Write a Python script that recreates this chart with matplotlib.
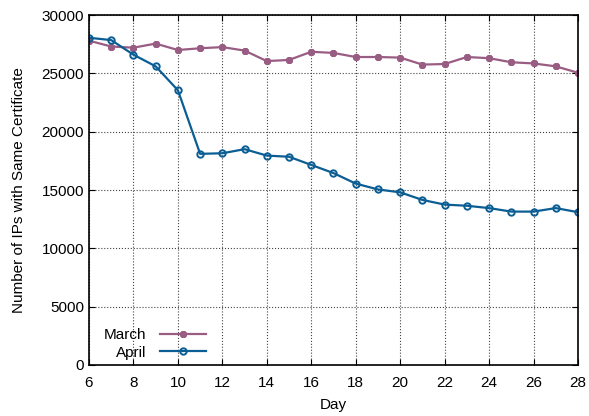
import matplotlib
matplotlib.use('Agg')
import matplotlib.pyplot as plt

plt.rcParams['font.family'] = ['Liberation Sans', 'DejaVu Sans']
plt.rcParams['font.size'] = 11

days = list(range(6, 29))
march = [27800, 27300, 27200, 27550, 27000, 27150, 27250, 26950, 26050, 26150, 26850,
         26750, 26400, 26400, 26350, 25750, 25800, 26400, 26300, 25950, 25850, 25600, 25050]
april = [28050, 27850, 26600, 25600, 23550, 18100, 18150, 18500, 17950, 17850, 17150,
         16450, 15550, 15050, 14800, 14150, 13750, 13650, 13450, 13150, 13150, 13450, 13100]

fig = plt.figure(figsize=(5.89, 4.16), dpi=100)
ax = fig.add_axes([0.1511, 0.1226, 0.8302, 0.8413])

ax.plot(days, march, color='#995c83', lw=1.6, marker=(8, 2, 0), ms=5, mew=1.5, label='March')
ax.plot(days, april, color='#0b5e94', lw=1.6, marker='o', ms=4.6, mew=1.4,
        mfc='none', label='April')

ax.set_xlim(6, 28)
ax.set_ylim(0, 30000)
ax.set_xticks(range(6, 29, 2))
ax.set_yticks(range(0, 30001, 5000))
ax.grid(True, linestyle=':', color='#444444', lw=0.8)
ax.tick_params(direction='in', top=True, right=True, length=4, labelsize=11)
ax.tick_params(axis='x', pad=8)
for s in ax.spines.values():
    s.set_linewidth(1.2)

ax.set_xlabel('Day', fontsize=11, labelpad=6)
ax.set_ylabel('Number of IPs with Same Certificate', fontsize=11, labelpad=11)

ax.legend(loc='lower left', bbox_to_anchor=(0.015, -0.007), frameon=False, markerfirst=False,
          handlelength=3.0, labelspacing=0.25, fontsize=11, borderaxespad=0.1,
          handletextpad=0.9)

fig.savefig('out.png', dpi=100)
